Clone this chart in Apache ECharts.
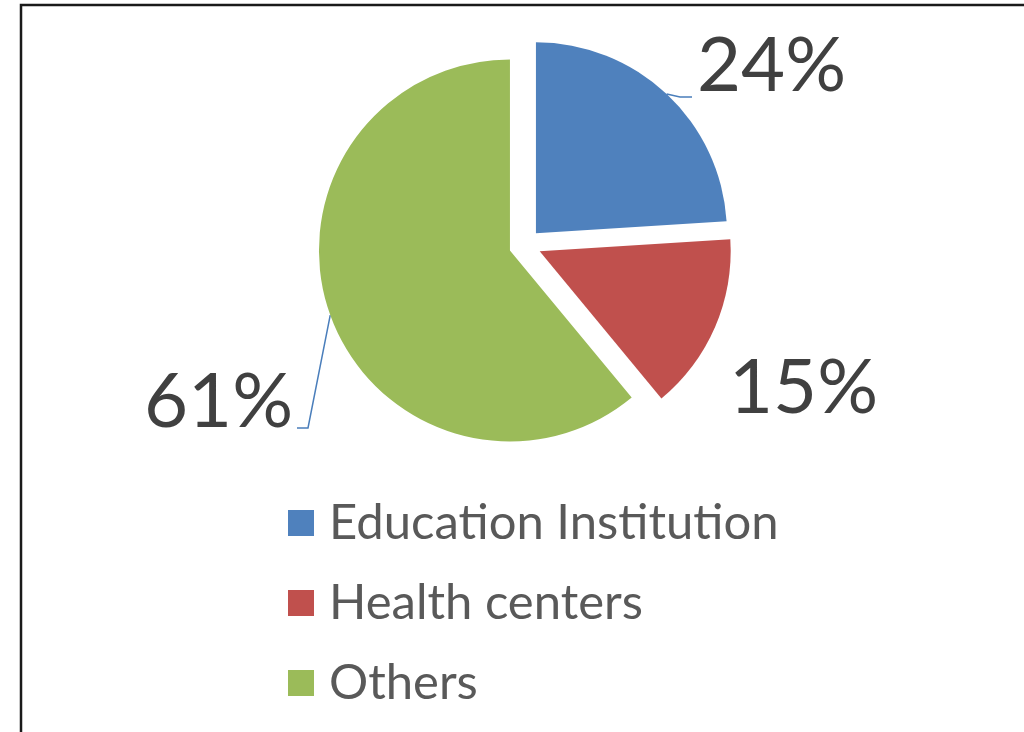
<!DOCTYPE html>
<html>
<head>
<meta charset="utf-8">
<script src="https://cdn.jsdelivr.net/npm/echarts@6/dist/echarts.min.js"></script>
<style>
	html, body { margin: 0; padding: 0; background: #fff; }
	#main { width: 1024px; height: 732px; }
</style>
</head>
<body>
<div id="main"></div>
<script>
const categories = ["Education Institution", "Health centers", "Others"];
const shares = [24, 15, 61];
const sliceColors = ["#4F81BD", "#C0504D", "#9BBB59"];

const center = [525, 245];
const radius = 191;
const explode = 16;

// percentage label spot (left edge, vertical middle) and the leader line bend
const labelSpots = [
	{ x: 697, y: 66, line: [[680, 97], [692, 97]] },
	{ x: 729, y: 388, line: null },
	{ x: 144, y: 402, line: [[308, 428], [297, 428]] },
];

const total = shares.reduce((a, b) => a + b, 0);

// middle angle of a slice, clockwise from 12 o'clock
const midAngle = (i) => {
	let before = 0;
	for (let k = 0; k < i; k++) before += shares[k];
	return ((before + shares[i] / 2) / total) * Math.PI * 2;
};

// each slice is pushed out along its middle angle
const sliceCenter = (i) => {
	const a = midAngle(i);
	return [center[0] + explode * Math.sin(a), center[1] - explode * Math.cos(a)];
};

const edgePoint = (i) => {
	const a = midAngle(i);
	const c = sliceCenter(i);
	return [c[0] + radius * Math.sin(a), c[1] - radius * Math.cos(a)];
};

const chart = echarts.init(document.getElementById("main"));

// one pie per slice, the other slices left see-through, so every slice can sit apart
const series = categories.map((_, s) => ({
	type: "pie",
	center: sliceCenter(s),
	radius: radius,
	startAngle: 90,
	clockwise: true,
	silent: true,
	emphasis: { disabled: true },
	label: {
		show: false,
		formatter: "{c}%",
		fontFamily: "Lato",
		fontSize: 76,
		color: "#404040",
	},
	labelLine: {
		show: false,
		lineStyle: { color: "#4A7EBB", width: 1.5 },
	},
	labelLayout: (params) => {
		const spot = labelSpots[params.dataIndex];
		const out = {
			x: spot.x,
			y: spot.y,
			align: "left",
			verticalAlign: "middle",
		};
		if (spot.line) {
			out.labelLinePoints = [edgePoint(params.dataIndex), spot.line[0], spot.line[1]];
		}
		return out;
	},
	data: categories.map((name, i) => ({
		name: name,
		value: shares[i],
		itemStyle: {
			color: i === s ? sliceColors[i] : "rgba(0,0,0,0)",
			borderWidth: 0,
		},
		label: { show: i === s },
		labelLine: { show: i === s && labelSpots[i].line !== null },
	})),
}));

const option = {
	animation: false,
	graphic: [
		{
			type: "rect",
			shape: { x: 21, y: 5, width: 1100, height: 800 },
			style: { fill: "none", stroke: "#1a1a1a", lineWidth: 2.5 },
			silent: true,
		},
	],
	legend: {
		orient: "vertical",
		left: 283,
		top: 489,
		itemWidth: 26,
		itemHeight: 26,
		itemGap: 22,
		icon: "rect",
		selectedMode: false,
		textStyle: {
			fontFamily: "Lato",
			fontSize: 49,
			lineHeight: 58,
			color: "#595959",
			padding: [0, 0, 0, 10],
		},
		data: categories.map((name, i) => ({ name: name, itemStyle: { color: sliceColors[i] } })),
	},
	series: series,
};

chart.setOption(option);
</script>
</body>
</html>
